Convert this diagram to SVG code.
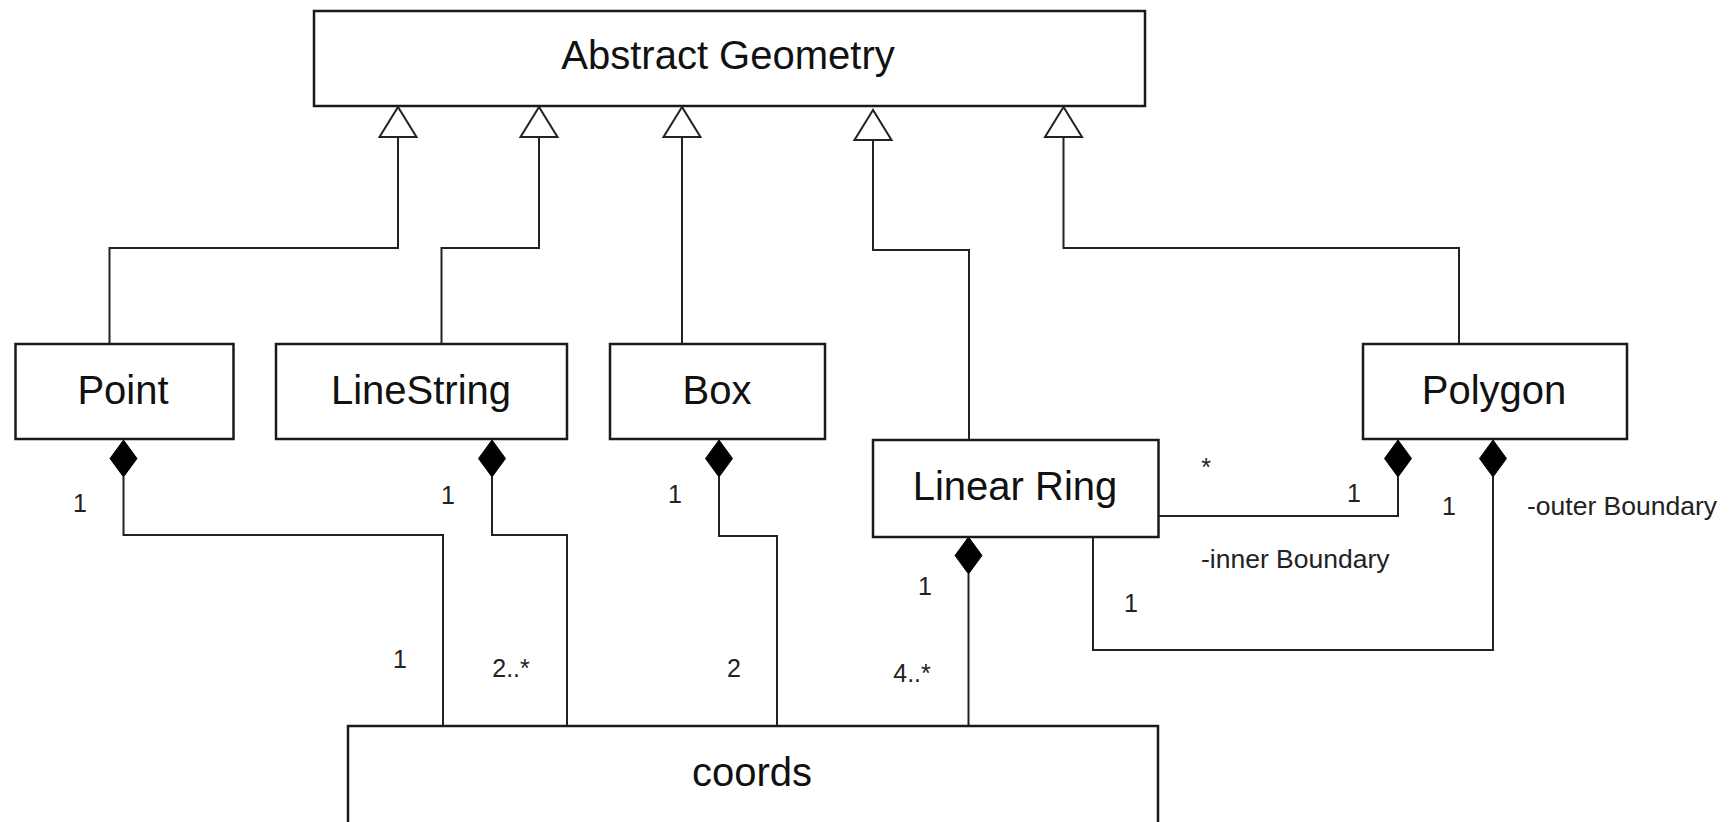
<svg xmlns="http://www.w3.org/2000/svg" width="1735" height="822" viewBox="0 0 1735 822">
<style>
.box{fill:#fff;stroke:#1a1a1a;stroke-width:2.5}
.name{font-family:"Liberation Sans",Arial,sans-serif;font-size:40px;fill:#111;text-anchor:middle}
.lbl{font-family:"Liberation Sans",Arial,sans-serif;font-size:25px;fill:#222}
.bnd{font-size:26.5px}
.m{text-anchor:middle}
.ln{fill:none;stroke:#222;stroke-width:2}
.tri{fill:#fff;stroke:#222;stroke-width:2}
.dia{fill:#000;stroke:#000;stroke-width:1}
</style>
<rect width="1735" height="822" fill="#fff"/>
<g id="connectors">
  <polyline class="ln" points="109.5,344 109.5,248 398,248 398,137"/>
  <polygon class="tri" points="398,107 379.5,137 416.5,137"/>
  <polyline class="ln" points="441.5,344 441.5,248 539,248 539,137"/>
  <polygon class="tri" points="539,107 520.5,137 557.5,137"/>
  <polyline class="ln" points="682,344 682,137"/>
  <polygon class="tri" points="682,107 663.5,137 700.5,137"/>
  <polyline class="ln" points="969,440 969,250 873,250 873,140"/>
  <polygon class="tri" points="873,110 854.5,140 891.5,140"/>
  <polyline class="ln" points="1459,344 1459,248 1063.5,248 1063.5,137"/>
  <polygon class="tri" points="1063.5,107 1045,137 1082,137"/>
  <polyline class="ln" points="123.5,477 123.5,535 443,535 443,726"/>
  <polygon class="dia" points="123.5,440 137,458.5 123.5,477 110,458.5"/>
  <polyline class="ln" points="492,477 492,535 567,535 567,726"/>
  <polygon class="dia" points="492,440 505.5,458.5 492,477 478.5,458.5"/>
  <polyline class="ln" points="719,477 719,536 777,536 777,726"/>
  <polygon class="dia" points="719,440 732.5,458.5 719,477 705.5,458.5"/>
  <polyline class="ln" points="968.5,574 968.5,726"/>
  <polygon class="dia" points="968.5,537 982,555.5 968.5,574 955,555.5"/>
  <polyline class="ln" points="1158.5,516 1398,516 1398,477"/>
  <polygon class="dia" points="1398,440 1411.5,458.5 1398,477 1384.5,458.5"/>
  <polyline class="ln" points="1093,537 1093,650 1493,650 1493,477"/>
  <polygon class="dia" points="1493,440 1506.5,458.5 1493,477 1479.5,458.5"/>
</g>
<g id="abstract-geometry">
  <rect class="box" x="314" y="11" width="831" height="95"/>
  <text class="name" x="728" y="69">Abstract Geometry</text>
</g>
<g id="point">
  <rect class="box" x="15.5" y="344" width="218" height="95"/>
  <text class="name" x="123" y="404">Point</text>
</g>
<g id="linestring">
  <rect class="box" x="276" y="344" width="291" height="95"/>
  <text class="name" x="421" y="404">LineString</text>
</g>
<g id="box">
  <rect class="box" x="610" y="344" width="215" height="95"/>
  <text class="name" x="717" y="404">Box</text>
</g>
<g id="linear-ring">
  <rect class="box" x="873" y="440" width="285.5" height="97"/>
  <text class="name" x="1015" y="500">Linear Ring</text>
</g>
<g id="polygon">
  <rect class="box" x="1363" y="344" width="264" height="95"/>
  <text class="name" x="1494" y="404">Polygon</text>
</g>
<g id="coords">
  <rect class="box" x="348" y="726" width="810" height="100"/>
  <text class="name" x="752" y="786">coords</text>
</g>
<g id="labels">
  <text class="lbl m" x="80" y="512">1</text>
  <text class="lbl m" x="448" y="504">1</text>
  <text class="lbl m" x="675" y="503">1</text>
  <text class="lbl m" x="1206" y="476">*</text>
  <text class="lbl m" x="1354" y="502">1</text>
  <text class="lbl m" x="1449" y="515">1</text>
  <text class="lbl bnd" x="1527" y="515">-outer Boundary</text>
  <text class="lbl bnd" x="1201" y="568">-inner Boundary</text>
  <text class="lbl m" x="925" y="595">1</text>
  <text class="lbl m" x="1131" y="612">1</text>
  <text class="lbl m" x="400" y="668">1</text>
  <text class="lbl m" x="511" y="677">2..*</text>
  <text class="lbl m" x="734" y="677">2</text>
  <text class="lbl m" x="912" y="682">4..*</text>
</g>
</svg>
